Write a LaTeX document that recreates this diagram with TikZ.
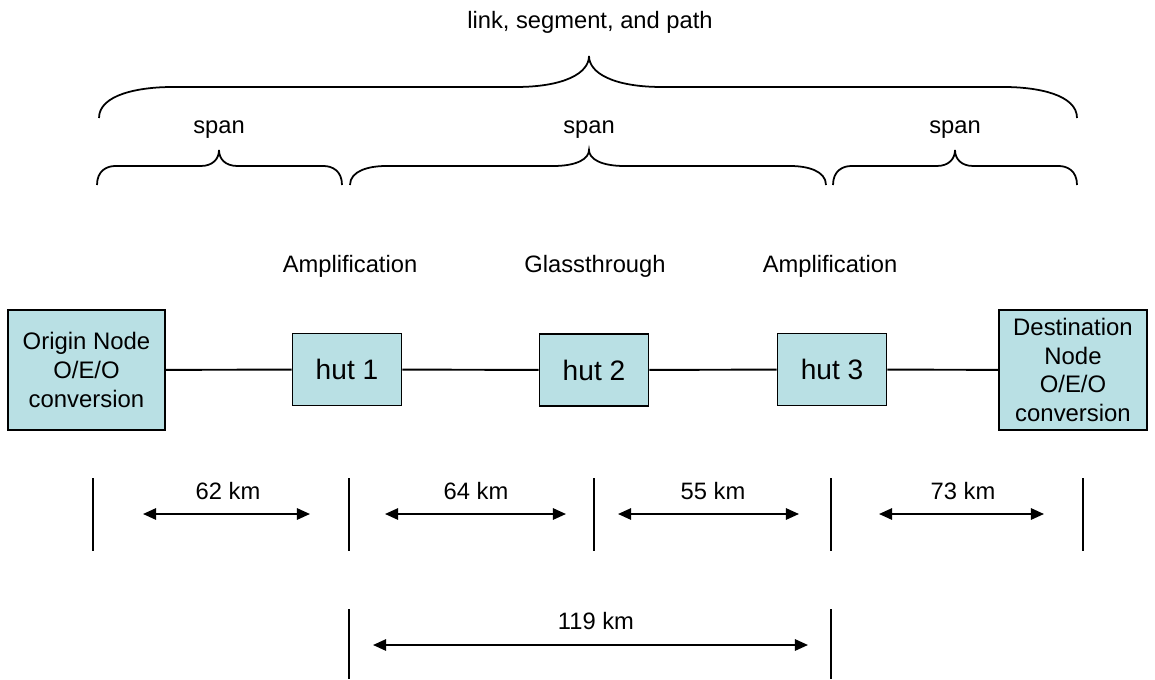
\documentclass[tikz,border=0pt]{standalone}
\usepackage{fontspec}
\setmainfont{Liberation Sans}
\usetikzlibrary{arrows.meta}
\definecolor{boxfill}{RGB}{185,224,228}
\newcommand{\mybrace}[6]{% x1, xtip, x2, ytip, yh, yend
  \draw[bracestyle] (#1,#6) .. controls (#1,{#6-0.75*(#6-#5)}) and ({#1+0.08*(#2-#1)},#5) .. ({#1+0.15*(#2-#1)},#5)
    -- ({#2-0.15*(#2-#1)},#5) .. controls ({#2-0.05*(#2-#1)},#5) and (#2,{#5-0.45*(#5-#4)}) .. (#2,#4)
    .. controls (#2,{#5-0.45*(#5-#4)}) and ({#2+0.05*(#3-#2)},#5) .. ({#2+0.15*(#3-#2)},#5)
    -- ({#3-0.15*(#3-#2)},#5) .. controls ({#3-0.08*(#3-#2)},#5) and (#3,{#6-0.75*(#6-#5)}) .. (#3,#6);}
\tikzset{
  bracestyle/.style={line width=1.0pt},
  boxnode/.style={draw, line width=1.0pt, fill=boxfill, inner sep=0pt, align=center, font=\fontsize{13.6}{16.3}\selectfont},
  hutnode/.style={boxnode, minimum width=109*0.02cm, minimum height=72*0.02cm, font=\fontsize{16}{19}\selectfont},
  lbl/.style={font=\fontsize{13.5}{16}\selectfont, inner sep=0pt},
  link/.style={line width=1.1pt},
  bar/.style={line width=1.0pt},
  dim/.style={line width=1.1pt, {Triangle[length=7.5pt,width=6.5pt]}-{Triangle[length=7.5pt,width=6.5pt]}}
}
\begin{document}
\begin{tikzpicture}[x=0.02cm,y=-0.02cm]
\useasboundingbox (0,0) rectangle (1155,679);
% braces
\node[lbl] (ltop) at (590,22) {link, segment, and path};
\mybrace{99}{589}{1077}{56}{87}{118}
\node[lbl] (s1) at (219,130) {span};
\node[lbl] (s2) at (589,130) {span};
\node[lbl] (s3) at (955,130) {span};
\mybrace{97}{219}{342}{150}{166}{185}
\mybrace{350}{589}{826}{150}{166}{185}
\mybrace{833}{955}{1077}{150}{166}{185}
\node[lbl] (a1) at (350,266) {Amplification};
\node[lbl] (g2) at (595,266) {Glassthrough};
\node[lbl] (a3) at (830,266) {Amplification};
% boxes
\node[boxnode, minimum width=157*0.02cm, minimum height=120*0.02cm] (orig) at (86.5,370) {Origin Node\\O/E/O\\conversion};
\node[hutnode] (h1) at (347,369.5) {hut 1};
\node[hutnode] (h2) at (594,370) {hut 2};
\node[hutnode] (h3) at (832,369.5) {hut 3};
\node[boxnode, minimum width=148*0.02cm, minimum height=120*0.02cm] (dest) at (1073,370) {Destination\\Node\\O/E/O\\conversion};
\draw[link] (orig) -- (h1);
\draw[link] (h1) -- (h2);
\draw[link] (h2) -- (h3);
\draw[link] (h3) -- (dest);
% distance bars
\foreach \n/\x in {b1/93,b2/349,b3/594,b4/831,b5/1083}{
  \coordinate (\n t) at (\x,478);
  \coordinate (\n b) at (\x,551);
  \draw[bar] (\n t) -- (\n b);
}
\coordinate (d1l) at (143,514); \coordinate (d1r) at (310,514);
\coordinate (d2l) at (385,514); \coordinate (d2r) at (566,514);
\coordinate (d3l) at (618,514); \coordinate (d3r) at (799,514);
\coordinate (d4l) at (879,514); \coordinate (d4r) at (1044,514);
\draw[dim] (d1l) -- (d1r);
\draw[dim] (d2l) -- (d2r);
\draw[dim] (d3l) -- (d3r);
\draw[dim] (d4l) -- (d4r);
\node[lbl] (k1) at (228,491) {62 km};
\node[lbl] (k2) at (476,491) {64 km};
\node[lbl] (k3) at (713,491) {55 km};
\node[lbl] (k4) at (963,491) {73 km};
\coordinate (c1t) at (349,609); \coordinate (c1b) at (349,679);
\coordinate (c2t) at (831,609); \coordinate (c2b) at (831,679);
\draw[bar] (c1t) -- (c1b);
\draw[bar] (c2t) -- (c2b);
\coordinate (d5l) at (373,645); \coordinate (d5r) at (808,645);
\draw[dim] (d5l) -- (d5r);
\node[lbl] (k5) at (596,621) {119 km};
\end{tikzpicture}
\end{document}
